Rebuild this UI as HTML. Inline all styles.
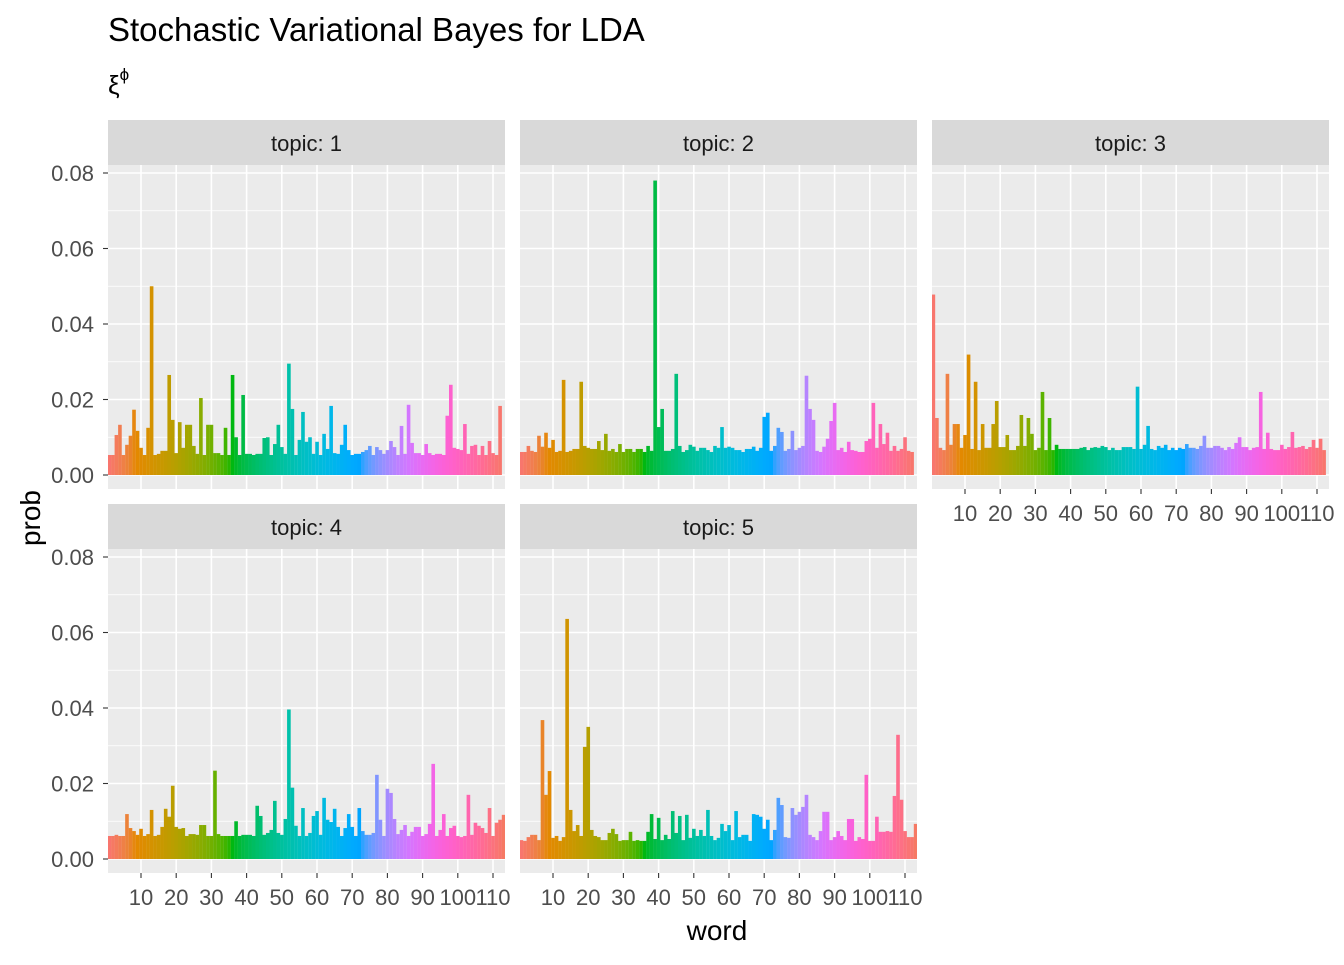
<!DOCTYPE html>
<html><head><meta charset="utf-8"><style>
body{margin:0;background:#fff}
svg text{font-family:"Liberation Sans",Arial,sans-serif}
</style></head><body>
<svg id="chart" width="1344" height="960" xmlns="http://www.w3.org/2000/svg">
<rect width="1344" height="960" fill="#fff"/>
<text x="108" y="41" font-size="33" fill="#000">Stochastic Variational Bayes for LDA</text>
<text x="108" y="94" font-size="26" font-family="Liberation Serif,serif" fill="#000">ξ<tspan dy="-14" font-size="17">ϕ</tspan></text>
<text x="717" y="940" font-size="28" text-anchor="middle" fill="#000">word</text>
<text x="40" y="518" font-size="28" text-anchor="middle" fill="#000" transform="rotate(-90 40 518)">prob</text>
<g id="panels"></g>
</svg>
<script>
const topics = ["1","2","3","4","5"];
const yTicks = [0, 0.02, 0.04, 0.06, 0.08];
const yTickLabels = ["0.00","0.02","0.04","0.06","0.08"];
const xTicks = [10,20,30,40,50,60,70,80,90,100,110];
const topic1 = [5.3,5.3,10.6,13.3,5.3,8,10.4,17.3,11.7,7.2,5.3,12.5,50,5.3,5.6,6.4,6.4,26.5,14.6,5.8,14,7.2,13.3,13.3,7.7,5.6,20.4,5.3,13.3,13.3,5.8,5.8,5.3,12.5,5.3,26.5,10,5.3,21.2,5.6,5.6,5.3,5.6,5.6,9.8,10,5.3,8.2,13.3,7.4,5.6,29.5,17.5,5.3,9.3,16.7,8.8,10,5.6,8.8,5.3,10.9,6.9,18.3,5.8,5.6,8,13.3,6.6,5.3,5.6,5.6,6.1,6.6,7.7,5.3,7.4,6.6,5.6,6.6,9,7.4,5.3,13,5.6,18.6,8.5,5.8,5.8,5.3,8.2,5.8,5.3,5.6,5.6,5.3,15.7,23.9,7.2,6.9,6.6,13.5,5.6,7.7,8,5.3,7.7,5.3,9,5.8,5.3,18.3];
const topic2 = [6.1,6.1,7.7,6.4,6.1,10.4,7.5,11.2,7.2,9.3,6.1,6.4,25.2,6.1,6.4,6.9,6.9,24.7,7.7,7.2,6.9,6.9,9,6.6,10.9,6.4,6.9,6.1,8.2,6.1,6.9,6.9,6.1,6.9,6.9,6.1,7.7,6.4,78,12.7,17.5,6.4,6.4,6.9,26.8,7.7,6.1,6.6,8,7.5,6.4,7.2,7.2,6.6,6.1,7.7,7.2,12.7,7.2,7.5,7.2,6.6,6.6,6.1,6.9,6.9,7.5,6.4,7.2,15.4,16.5,6.4,7.7,12.5,11.4,6.4,6.9,11.7,6.6,7.2,7.7,26.3,17.5,14.6,6.4,6.1,7.5,9.6,14.3,19.1,6.6,7.2,6.1,8.8,6.6,6.4,6.1,6.1,9,9.6,19.1,7.2,13.5,8.2,11.2,6.4,7.7,6.4,6.9,10,6.4,6.1];
const topic3 = [47.8,15.1,7.2,6.6,26.8,8,13.5,13.5,7.2,10.6,31.9,6.9,24.7,6.6,13.5,7.2,7.2,13.5,19.6,7.4,7.4,10.6,6.6,6.6,7.7,15.9,7.7,15.1,10.9,6.6,7.2,22,6.6,15.1,6.6,8,6.9,6.9,6.9,6.9,6.9,6.9,7.2,7.4,6.6,7.2,7.4,7.2,7.7,7.4,6.6,7.2,6.6,6.6,7.4,7.4,7.4,6.9,23.4,6.9,8,13,6.9,6.6,7.7,7.2,8,6.6,7.2,6.6,7.2,6.9,8.2,7.2,7.2,6.9,7.7,10.4,7.2,7.2,7.7,7.7,7.2,6.6,7.4,6.9,8.5,10,7.4,7.4,6.6,7.2,7.4,22,6.9,11.2,6.9,6.6,6.6,8,6.9,7.4,11.4,7.2,7.4,7.7,6.9,7.4,9.3,7.2,9.6,6.6];
const topic4 = [6.1,6.1,6.4,6.1,6.1,11.9,8.2,7.4,6.4,8,6.1,6.6,13,6.1,6.4,8.5,13.3,11.2,19.4,8.5,8,8.2,6.1,6.6,6.6,6.4,9,9,6.1,6.1,23.4,6.6,6.1,6.1,6.1,6.1,10,6.1,6.4,6.4,6.4,6.1,14.1,11.4,6.4,6.9,7.7,15.4,6.9,6.4,10.6,39.6,18.9,8.8,6.1,13.5,6.1,6.9,11.4,12.7,6.4,16.2,10.4,9.8,13.3,8.5,6.1,8.2,11.9,8.5,6.1,13.5,7.4,6.4,6.4,6.9,22.3,10.4,6.1,18.6,17.5,10.6,6.6,7.7,9,6.1,7.2,8.5,8.5,6.1,6.6,9.3,25.2,6.1,7.7,11.9,6.1,8.2,8.8,6.1,5.8,6.1,17,6.4,9.6,8.8,8.2,6.9,13.5,6.1,9.6,10.4,11.7,10.4,22.8];
const topic5 = [5,4.8,5.8,6.4,6.4,5,36.8,17,23.3,5.6,6.1,4.8,5.8,63.6,13,7.4,9,6.1,29.7,35,7.7,6.1,5.8,5,5,6.9,8,6.6,4.8,5,5,7.2,4.8,5,4.8,4.8,7.2,11.9,5.3,10.9,5,6.4,5.3,12.7,6.9,11.4,5,11.7,5.6,8,6.1,7.7,6.1,13,6.1,5,5.6,9.3,7.4,9,5,12.7,5.8,6.4,6.4,4.8,11.9,11.7,11.2,8,10.4,5,7.7,16.2,14.3,5.8,5.6,13.5,11.7,12.5,13.8,17,6.4,5.8,5,7.4,12.5,12.5,5,5.8,7.4,6.1,5,10.6,10.6,4.8,5.8,5.3,22.3,4.8,4.8,11.2,7.2,7.2,7.4,7.2,16.7,32.9,15.7,7.4,5.8,5.8,9.3,5,4.8];
const series = [topic1, topic2, topic3, topic4, topic5];

function hcl(h){const L=65,C=100,r=h*Math.PI/180;const u=C*Math.cos(r),v=C*Math.sin(r);
const Xn=95.047,Yn=100,Zn=108.883,d=Xn+15*Yn+3*Zn,un=4*Xn/d,vn=9*Yn/d;
const Y=Yn*Math.pow((L+16)/116,3);const up=u/(13*L)+un,vp=v/(13*L)+vn;
const X=Y*9*up/(4*vp),Z=Y*(12-3*up-20*vp)/(4*vp);const x=X/100,y=Y/100,z=Z/100;
let R=3.2406*x-1.5372*y-0.4986*z,G=-0.9689*x+1.8758*y+0.0415*z,B=0.0557*x-0.2040*y+1.0570*z;
const g=c=>{c=Math.max(0,Math.min(1,c));return Math.round(255*(c<=0.0031308?12.92*c:1.055*Math.pow(c,1/2.4)-0.055));};
return `rgb(${g(R)},${g(G)},${g(B)})`;}

const NS="http://www.w3.org/2000/svg";
const root=document.getElementById('panels');
function mk(tag,attrs,parent){const e=document.createElementNS(NS,tag);for(const k in attrs)e.setAttribute(k,attrs[k]);parent.appendChild(e);return e;}
const layout=[{x:108,top:120},{x:520,top:120},{x:932,top:120},{x:108,top:504},{x:520,top:504}];
const W=397,stripH=45,plotH=324;
topics.forEach((t,i)=>{
  const L=layout[i],px=L.x,py=L.top+stripH;
  const base=py+310;
  const ys=v=>base-v*3775;
  const xs=w=>px+33+(w-10)*3.52;
  const g=mk('g',{},root);
  
  
  const strip=mk('rect',{x:px,y:L.top,width:W,height:stripH,fill:'#d9d9d9'},g);
  
  
  const st=mk('text',{x:px+W/2,y:L.top+31,'font-size':'22','text-anchor':'middle',fill:'#1a1a1a'},g);
  st.textContent='topic: '+t;
  
  
  const bg=mk('rect',{x:px,y:py,width:W,height:plotH,fill:'#ebebeb'},g);
  
  
  [0.01,0.03,0.05,0.07].forEach(v=>{const l=mk('line',{x1:px,x2:px+W,y1:ys(v),y2:ys(v),stroke:'#fff','stroke-width':0.8},g);
    });
  yTicks.forEach(v=>{const l=mk('line',{x1:px,x2:px+W,y1:ys(v),y2:ys(v),stroke:'#fff','stroke-width':1.6},g);
    });
  xTicks.forEach(w=>{const l=mk('line',{x1:xs(w),x2:xs(w),y1:py,y2:py+plotH,stroke:'#fff','stroke-width':1.6},g);
    });
  const clipId='clip'+i;const cp=mk('clipPath',{id:clipId},g);mk('rect',{x:px,y:py,width:W,height:plotH},cp);
  const bars=mk('g',{'clip-path':`url(#${clipId})`},g);
  const vals=series[i];const n=112;
  vals.forEach((v,k)=>{const w=k+1;const val=v/1000;
    const r=mk('rect',{x:xs(w)-1.76,y:ys(val),width:3.62,height:ys(0)-ys(val),fill:hcl(15+360*(w-1)/(n-1))},bars);
    
    });
  if(i===0||i===3){yTicks.forEach((v,k)=>{
    mk('line',{x1:px-5,x2:px,y1:ys(v),y2:ys(v),stroke:'#333','stroke-width':1.1},g);
    const tx=mk('text',{x:px-14,y:ys(v)+8,'font-size':'22','text-anchor':'end',fill:'#4d4d4d'},g);
    tx.textContent=yTickLabels[k];
    
    });}
  if(i>=2){xTicks.forEach(w=>{
    mk('line',{x1:xs(w),x2:xs(w),y1:py+plotH,y2:py+plotH+5,stroke:'#333','stroke-width':1.1},g);
    const tx=mk('text',{x:xs(w),y:py+plotH+32,'font-size':'22','text-anchor':'middle',fill:'#4d4d4d'},g);
    tx.textContent=String(w);
    
    });}
});
</script>
</body></html>
